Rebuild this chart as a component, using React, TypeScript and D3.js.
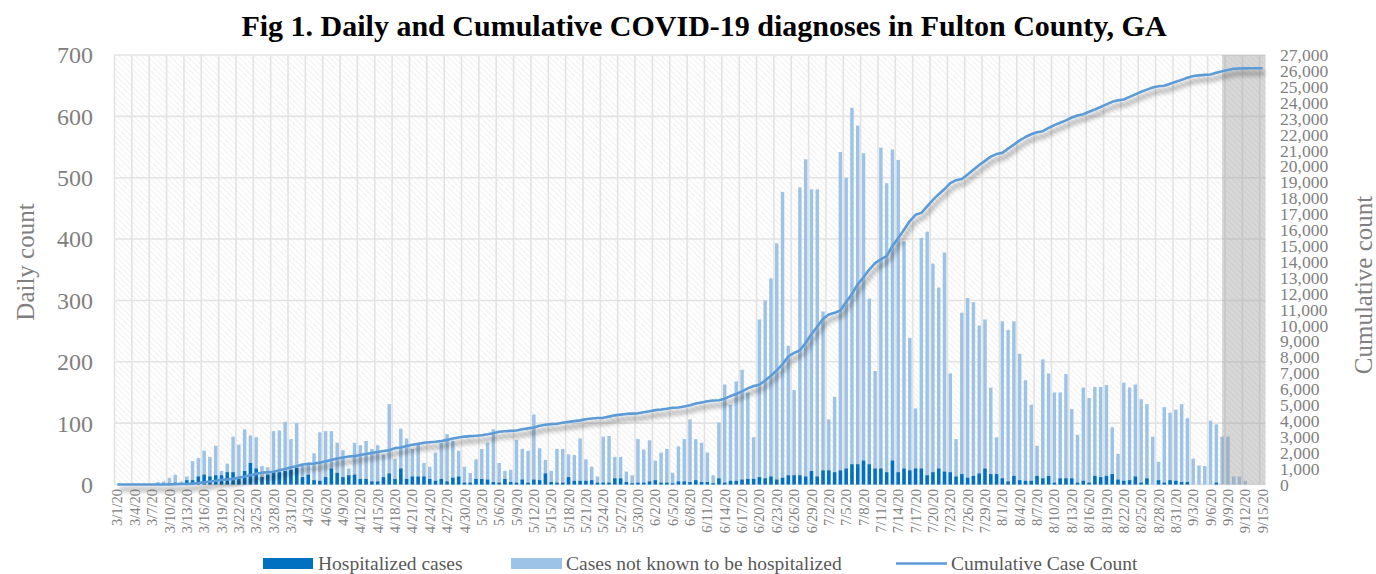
import React from 'react';
import * as d3 from 'd3';

// ---------- data ----------
const fmtDate = d3.timeFormat('%-m/%-d/%y');
const dates: string[] = d3.timeDay.range(new Date(2020, 2, 1), new Date(2020, 8, 16)).map(fmtDate);

// total daily diagnoses (hospitalized + not known to be hospitalized)
const dailyTotal = [
  0, 0, 0, 0, 0, 0, 0, 4, 5, 11,
  16, 5, 13, 38, 43, 55, 45, 63, 22, 34,
  78, 65, 90, 80, 77, 30, 28, 87, 88, 102,
  74, 100, 34, 36, 51, 85, 87, 87, 68, 56,
  26, 68, 64, 71, 58, 64, 49, 131, 42, 91,
  75, 58, 66, 35, 29, 52, 68, 82, 71, 55,
  29, 19, 41, 58, 68, 90, 35, 22, 24, 73,
  58, 55, 114, 59, 40, 22, 58, 58, 49, 48,
  75, 41, 29, 13, 78, 79, 45, 45, 21, 15,
  74, 57, 72, 39, 52, 58, 19, 62, 74, 106,
  74, 68, 52, 15, 101, 163, 130, 168, 187, 150,
  77, 269, 300, 336, 393, 477, 226, 154, 484, 530,
  481, 481, 282, 106, 143, 542, 500, 614, 585, 540,
  303, 185, 549, 491, 546, 529, 396, 239, 124, 402,
  412, 360, 321, 378, 181, 74, 280, 304, 297, 259,
  269, 158, 77, 266, 252, 266, 213, 170, 130, 63,
  204, 181, 150, 150, 180, 123, 81, 158, 141, 159,
  159, 162, 93, 50, 166, 158, 163, 139, 131, 78,
  37, 126, 117, 122, 131, 108, 42, 31, 30, 104,
  98, 78, 78, 13, 13, 6, 0, 0, 0,
];

const hospitalized = [
  0, 0, 0, 0, 0, 0, 0, 0, 0, 1,
  3, 2, 7, 7, 13, 16, 13, 15, 15, 20,
  20, 9, 22, 35, 26, 12, 16, 22, 20, 22,
  24, 27, 12, 16, 7, 6, 12, 26, 19, 12,
  15, 16, 9, 9, 5, 5, 12, 18, 9, 26,
  9, 13, 13, 13, 9, 6, 9, 5, 11, 13,
  3, 3, 9, 9, 8, 4, 3, 9, 4, 3,
  8, 3, 8, 7, 18, 4, 3, 3, 12, 6,
  6, 6, 7, 3, 3, 3, 10, 10, 4, 2,
  3, 3, 5, 7, 3, 3, 2, 5, 5, 4,
  7, 4, 4, 2, 10, 3, 6, 6, 8, 9,
  9, 12, 10, 13, 8, 11, 15, 15, 15, 13,
  22, 13, 23, 23, 20, 23, 26, 33, 33, 39,
  33, 26, 26, 20, 39, 20, 26, 23, 26, 26,
  15, 20, 26, 21, 20, 13, 17, 11, 14, 18,
  26, 17, 17, 10, 5, 14, 7, 6, 6, 14,
  10, 14, 3, 10, 10, 10, 3, 6, 3, 14,
  12, 14, 17, 8, 6, 7, 13, 3, 10, 0,
  7, 3, 7, 6, 4, 4, 0, 0, 0, 0,
  3, 0, 0, 0, 0, 0, 0, 0, 0,
];

const cumulative = [
  0, 0, 0, 0, 0, 0, 0, 0, 4, 9,
  20, 36, 41, 54, 92, 135, 190, 235, 298, 320,
  354, 432, 497, 587, 667, 744, 774, 802, 889, 977,
  1079, 1153, 1253, 1287, 1323, 1374, 1459, 1546, 1633, 1701,
  1757, 1783, 1851, 1915, 1986, 2044, 2108, 2157, 2288, 2330,
  2421, 2496, 2554, 2620, 2655, 2684, 2736, 2804, 2886, 2957,
  3012, 3041, 3060, 3101, 3159, 3227, 3317, 3352, 3374, 3398,
  3471, 3529, 3584, 3698, 3757, 3797, 3819, 3877, 3935, 3984,
  4032, 4107, 4148, 4177, 4190, 4268, 4347, 4392, 4437, 4458,
  4473, 4547, 4604, 4676, 4715, 4767, 4825, 4844, 4906, 4980,
  5086, 5160, 5228, 5280, 5295, 5396, 5559, 5689, 5857, 6044,
  6194, 6271, 6540, 6840, 7176, 7569, 8046, 8272, 8426, 8910,
  9440, 9921, 10402, 10684, 10790, 10933, 11475, 11975, 12589, 13024,
  13514, 13917, 14152, 14351, 14992, 15488, 16017, 16563, 16952, 17076,
  17478, 17890, 18250, 18571, 18949, 19130, 19204, 19484, 19788, 20085,
  20344, 20613, 20771, 20848, 21114, 21366, 21632, 21845, 22015, 22145,
  22208, 22412, 22593, 22743, 22893, 23073, 23196, 23277, 23435, 23576,
  23735, 23894, 24056, 24149, 24199, 24365, 24523, 24686, 24825, 24956,
  25034, 25071, 25197, 25314, 25436, 25567, 25675, 25717, 25748, 25778,
  25882, 25980, 26058, 26136, 26149, 26162, 26168, 26168, 26168,
];

const leftTicks = [0, 100, 200, 300, 400, 500, 600, 700];
const rightTicks = [
  0, 1000, 2000, 3000, 4000, 5000, 6000, 7000, 8000, 9000, 10000, 11000, 12000, 13000,
  14000, 15000, 16000, 17000, 18000, 19000, 20000, 21000, 22000, 23000, 24000, 25000, 26000, 27000,
];
const xTickLabels = dates.filter((_, i) => i % 3 === 0);
const shadedFrom = '9/8/20';

const title = 'Fig 1. Daily and Cumulative COVID-19 diagnoses in Fulton County, GA';
const legendLabels = ['Hospitalized cases', 'Cases not known to be hospitalized', 'Cumulative Case Count'];

// ---------- styles ----------
const W = 1376;
const H = 574;
const plot = { left: 114.5, right: 1265.5, top: 55, bottom: 484.5 };
const FONT = '"Liberation Serif", "Times New Roman", serif';
const LIGHT = '#9dc3e6';
const DARK = '#0070c0';
const LINE = '#5b9bd5';
const AXIS_TEXT = '#808080';

export default function App() {
  const x = d3
    .scaleBand<string>()
    .domain(dates)
    .range([plot.left, plot.right])
    .paddingInner(0.4)
    .paddingOuter(0.2);
  const step = x.step();
  const bw = x.bandwidth();
  const cx = (d: string) => (x(d) as number) + bw / 2;

  const yL = d3.scaleLinear().domain([0, 700]).range([plot.bottom, plot.top]);
  const yR = d3.scaleLinear().domain([0, 27000]).range([plot.bottom, plot.top]);

  const linePath = d3
    .line<number>()
    .x((_, i) => cx(dates[i]))
    .y((d) => yR(d))(cumulative) as string;

  const vGrid = dates.filter((_, i) => i % 3 === 0).map((d) => cx(d) - step / 2);
  const shadeX = cx(shadedFrom);

  return (
    <svg
      width={W}
      height={H}
      viewBox={`0 0 ${W} ${H}`}
      style={{ position: 'absolute', left: 0, top: 0, background: '#fff' }}
      fontFamily={FONT}
    >
      <defs>
        <pattern id="hatch" width="4" height="4" patternUnits="userSpaceOnUse" patternTransform="rotate(-45)">
          <rect width="4" height="4" fill="#ffffff" />
          <line x1="0" y1="0" x2="0" y2="4" stroke="#e9e9e9" strokeWidth="1.3" />
        </pattern>
        <filter id="shadow" x="-5%" y="-20%" width="115%" height="150%">
          <feGaussianBlur in="SourceAlpha" stdDeviation="2.8" />
          <feOffset dx="2" dy="5" result="off" />
          <feComponentTransfer result="soft">
            <feFuncA type="linear" slope="0.5" />
          </feComponentTransfer>
          <feMerge>
            <feMergeNode in="soft" />
            <feMergeNode in="SourceGraphic" />
          </feMerge>
        </filter>
      </defs>

      <rect x={0} y={0} width={W} height={H} fill="#ffffff" />

      {/* title */}
      <text x={704} y={36} textAnchor="middle" fontSize={30} fontWeight="bold" fill="#000">
        {title}
      </text>

      {/* plot background */}
      <rect
        x={plot.left}
        y={plot.top}
        width={plot.right - plot.left}
        height={plot.bottom - plot.top}
        fill="url(#hatch)"
      />

      {/* gridlines */}
      {leftTicks.map((t) => (
        <line key={'h' + t} x1={plot.left} x2={plot.right} y1={yL(t)} y2={yL(t)} stroke="#e3e3e3" strokeWidth={1.6} />
      ))}
      {vGrid.map((gx, i) => (
        <line key={'v' + i} x1={gx} x2={gx} y1={plot.top} y2={plot.bottom} stroke="#e3e3e3" strokeWidth={1.6} />
      ))}

      {/* bars: total (light) with hospitalized (dark) at the base */}
      {dates.map((d, i) =>
        dailyTotal[i] > 0 ? (
          <rect key={'t' + i} x={x(d)} y={yL(dailyTotal[i])} width={bw} height={yL(0) - yL(dailyTotal[i])} fill={LIGHT} />
        ) : null
      )}
      {dates.map((d, i) =>
        hospitalized[i] > 0 ? (
          <rect key={'hb' + i} x={x(d)} y={yL(hospitalized[i])} width={bw} height={yL(0) - yL(hospitalized[i])} fill={DARK} />
        ) : null
      )}

      {/* shaded recent period */}
      <rect
        x={shadeX}
        y={plot.top}
        width={plot.right - shadeX}
        height={plot.bottom - plot.top}
        fill="#9a9a9a"
        opacity={0.4}
      />

      {/* cumulative line */}
      <path d={linePath} fill="none" stroke={LINE} strokeWidth={2.6} strokeLinejoin="round" filter="url(#shadow)" />

      {/* left axis */}
      {leftTicks.map((t) => (
        <text key={'lt' + t} x={93} y={yL(t)} dy="0.35em" textAnchor="end" fontSize={24} fill={AXIS_TEXT}>
          {t}
        </text>
      ))}
      <text transform={`translate(34,262) rotate(-90)`} textAnchor="middle" fontSize={25} fill={AXIS_TEXT}>
        Daily count
      </text>

      {/* right axis */}
      {rightTicks.map((t) => (
        <text key={'rt' + t} x={1280} y={yR(t)} dy="0.35em" textAnchor="start" fontSize={17.5} fill={AXIS_TEXT}>
          {d3.format(',')(t)}
        </text>
      ))}
      <text transform={`translate(1372,285) rotate(-90)`} textAnchor="middle" fontSize={25} fill={AXIS_TEXT}>
        Cumulative count
      </text>

      {/* x axis labels */}
      {xTickLabels.map((d) => (
        <text
          key={'xl' + d}
          transform={`translate(${cx(d)},489) rotate(-90)`}
          dy="0.35em"
          textAnchor="end"
          fontSize={14.5}
          fill={AXIS_TEXT}
        >
          {d}
        </text>
      ))}

      {/* legend */}
      <rect x={263} y={558} width={50} height={11} fill={DARK} />
      <text x={318} y={570} fontSize={19.5} fill="#595959">
        {legendLabels[0]}
      </text>
      <rect x={511} y={558} width={51} height={11} fill={LIGHT} />
      <text x={566} y={570} fontSize={19.5} fill="#595959">
        {legendLabels[1]}
      </text>
      <line x1={896} x2={947} y1={563.5} y2={563.5} stroke={LINE} strokeWidth={2.6} />
      <text x={951} y={570} fontSize={19.5} fill="#595959">
        {legendLabels[2]}
      </text>
    </svg>
  );
}
